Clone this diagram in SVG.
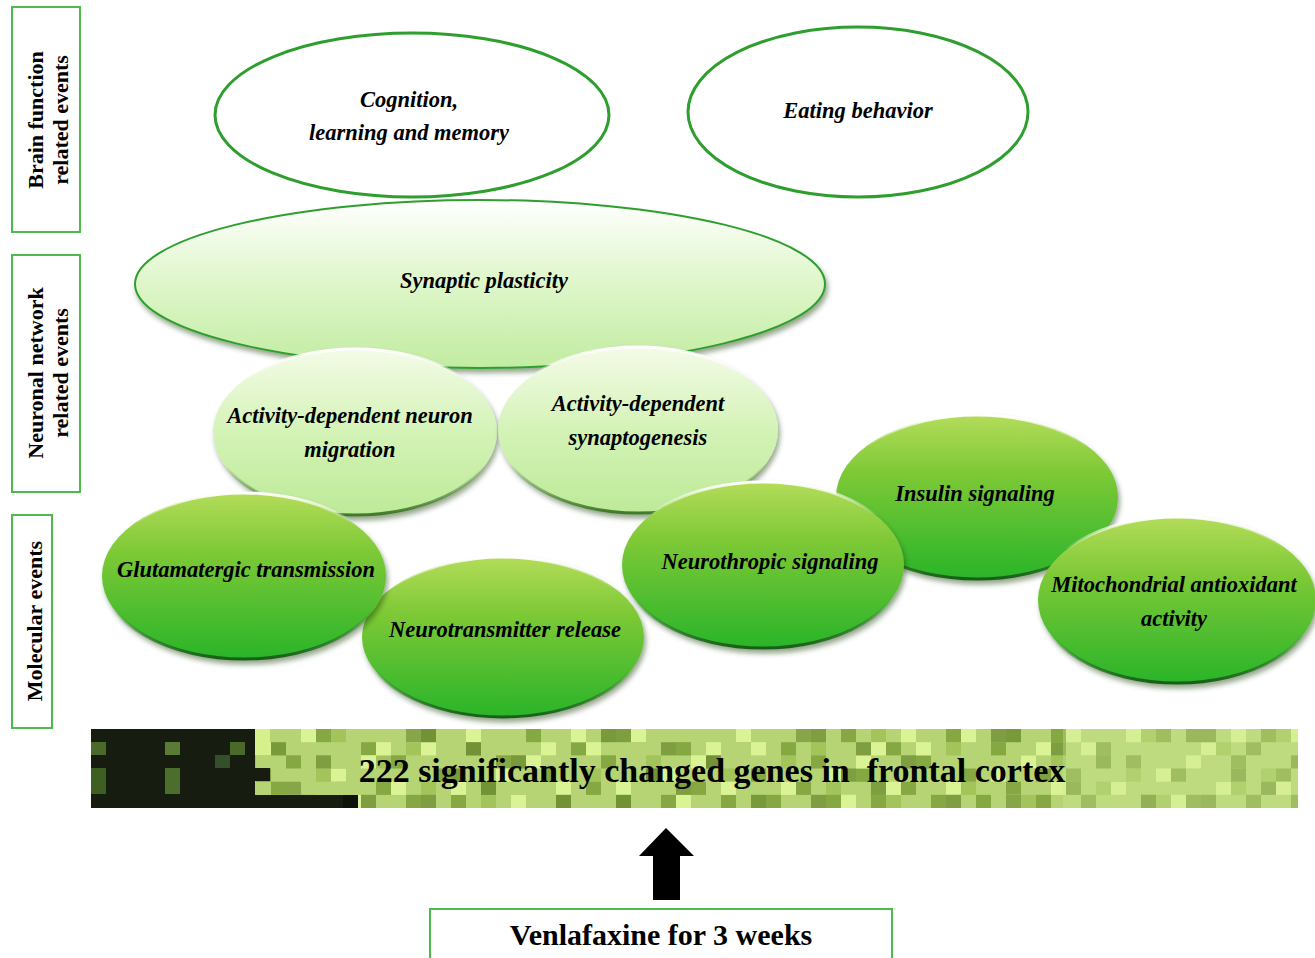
<svg xmlns="http://www.w3.org/2000/svg" width="1315" height="958" viewBox="0 0 1315 958">
<style>
.lbl{font-family:"Liberation Serif","Times New Roman",serif;font-weight:bold;font-size:22px;fill:#000}
.it{font-family:"Liberation Serif","Times New Roman",serif;font-weight:bold;font-style:italic;font-size:22.5px;fill:#000;text-anchor:middle}
.box{fill:#fff;stroke:#4cbb4c;stroke-width:2}
.top{fill:#fff;stroke:#2e9e2e;stroke-width:3}
.dk{fill:url(#gDark);stroke:url(#rimDark);stroke-width:3;filter:url(#sh)}
.lt{fill:url(#gLight);stroke:url(#rimLight);stroke-width:3;filter:url(#sh)}
</style>
<defs>
<linearGradient id="gDark" x1="0" y1="0" x2="0" y2="1">
<stop offset="0" stop-color="#b4dc5a"/><stop offset="0.35" stop-color="#7ec936"/><stop offset="1" stop-color="#2ab42a"/>
</linearGradient>
<linearGradient id="rimDark" x1="0" y1="0" x2="0" y2="1">
<stop offset="0" stop-color="#ffffff"/><stop offset="0.2" stop-color="#ffffff" stop-opacity="0"/><stop offset="0.7" stop-color="#1f7a1f" stop-opacity="0"/><stop offset="1" stop-color="#175f17"/>
</linearGradient>
<linearGradient id="gLight" x1="0" y1="0" x2="0" y2="1">
<stop offset="0" stop-color="#f4fbe8"/><stop offset="0.5" stop-color="#d4f3b7"/><stop offset="1" stop-color="#bdea98"/>
</linearGradient>
<linearGradient id="rimLight" x1="0" y1="0" x2="0" y2="1">
<stop offset="0" stop-color="#ffffff"/><stop offset="0.2" stop-color="#ffffff" stop-opacity="0"/><stop offset="0.7" stop-color="#4f8a35" stop-opacity="0"/><stop offset="1" stop-color="#3f7a2a"/>
</linearGradient>
<linearGradient id="gSyn" x1="0" y1="0" x2="0" y2="1">
<stop offset="0" stop-color="#ffffff"/><stop offset="0.5" stop-color="#def6c9"/><stop offset="1" stop-color="#c2eca2"/>
</linearGradient>
<filter id="sh" x="-10%" y="-10%" width="125%" height="130%">
<feDropShadow dx="2" dy="4" stdDeviation="2.5" flood-color="#1a3a10" flood-opacity="0.45"/>
</filter>
<pattern id="p1" patternUnits="userSpaceOnUse" x="91" y="729" width="105" height="79">
<g fill="#86a843">
<rect x="15" y="0" width="15" height="13.2"/><rect x="60" y="13.2" width="15" height="13.2"/><rect x="30" y="39.5" width="15" height="13.2"/><rect x="90" y="26.3" width="15" height="13.2"/><rect x="0" y="65.8" width="15" height="13.2"/><rect x="75" y="52.7" width="15" height="13.2"/><rect x="45" y="65.8" width="15" height="13.2"/>
</g>
</pattern>
<pattern id="p2" patternUnits="userSpaceOnUse" x="91" y="729" width="165" height="79">
<g fill="#daf395">
<rect x="0" y="13.2" width="15" height="13.2"/><rect x="45" y="0" width="15" height="13.2"/><rect x="105" y="26.3" width="15" height="13.2"/><rect x="135" y="52.7" width="15" height="13.2"/><rect x="30" y="52.7" width="15" height="13.2"/><rect x="75" y="39.5" width="15" height="13.2"/><rect x="150" y="0" width="15" height="13.2"/><rect x="90" y="65.8" width="15" height="13.2"/><rect x="120" y="13.2" width="15" height="13.2"/>
</g>
</pattern>
<pattern id="p3" patternUnits="userSpaceOnUse" x="91" y="729" width="195" height="79">
<g fill="#6a8c30" fill-opacity="0.75">
<rect x="30" y="26.3" width="15" height="13.2"/><rect x="120" y="0" width="30" height="13.2"/><rect x="165" y="39.5" width="15" height="13.2"/><rect x="75" y="65.8" width="15" height="13.2"/><rect x="0" y="52.7" width="15" height="13.2"/><rect x="135" y="65.8" width="15" height="13.2"/><rect x="180" y="13.2" width="15" height="13.2"/>
</g>
</pattern>
<pattern id="p4" patternUnits="userSpaceOnUse" x="91" y="729" width="135" height="79">
<g fill="#a2c45a">
<rect x="15" y="26.3" width="15" height="13.2"/><rect x="60" y="52.7" width="15" height="13.2"/><rect x="105" y="0" width="15" height="13.2"/><rect x="45" y="13.2" width="15" height="13.2"/><rect x="120" y="65.8" width="15" height="13.2"/><rect x="90" y="39.5" width="15" height="13.2"/>
</g>
</pattern>
</defs>
<rect width="1315" height="958" fill="#fff"/>

<g id="label-brain">
<rect class="box" x="12" y="7" width="68" height="225"/>
<text class="lbl" text-anchor="middle" transform="translate(43,120) rotate(-90)">Brain function</text>
<text class="lbl" text-anchor="middle" transform="translate(68,120) rotate(-90)">related events</text>
</g>
<g id="label-neuronal">
<rect class="box" x="12" y="255" width="68" height="237"/>
<text class="lbl" text-anchor="middle" transform="translate(43,373) rotate(-90)">Neuronal network</text>
<text class="lbl" text-anchor="middle" transform="translate(68,373) rotate(-90)">related events</text>
</g>
<g id="label-molecular">
<rect class="box" x="12" y="515" width="40" height="213"/>
<text class="lbl" text-anchor="middle" transform="translate(42,621) rotate(-90)">Molecular events</text>
</g>

<g id="node-cognition">
<ellipse class="top" cx="412" cy="115" rx="197" ry="82"/>
<text class="it" x="409" y="107">Cognition,</text>
<text class="it" x="409" y="140">learning and memory</text>
</g>
<g id="node-eating">
<ellipse class="top" cx="858" cy="112" rx="170" ry="85"/>
<text class="it" x="858" y="118">Eating behavior</text>
</g>

<g id="node-synaptic">
<ellipse cx="480" cy="284" rx="345" ry="84" fill="url(#gSyn)" stroke="#2f9f2f" stroke-width="2" filter="url(#sh)"/>
<text class="it" x="484" y="288">Synaptic plasticity</text>
</g>

<g id="node-migration">
<ellipse class="lt" cx="355" cy="432" rx="142" ry="83"/>
<text class="it" x="350" y="423">Activity-dependent neuron</text>
<text class="it" x="350" y="457">migration</text>
</g>
<g id="node-synaptogenesis">
<ellipse class="lt" cx="638" cy="430" rx="140" ry="83"/>
<text class="it" x="638" y="411">Activity-dependent</text>
<text class="it" x="638" y="445">synaptogenesis</text>
</g>

<g id="node-insulin">
<ellipse class="dk" cx="977" cy="497" rx="141" ry="82"/>
<text class="it" x="975" y="501">Insulin signaling</text>
</g>
<g id="node-neurotransmitter">
<ellipse class="dk" cx="503" cy="637" rx="141" ry="80"/>
<text class="it" x="505" y="637">Neurotransmitter release</text>
</g>
<g id="node-glutamatergic">
<ellipse class="dk" cx="244" cy="576" rx="142" ry="83"/>
<text class="it" x="246" y="577">Glutamatergic transmission</text>
</g>
<g id="node-neurothropic">
<ellipse class="dk" cx="763" cy="565" rx="141" ry="83"/>
<text class="it" x="770" y="569">Neurothropic signaling</text>
</g>
<g id="node-mitochondrial">
<ellipse class="dk" cx="1177" cy="600" rx="139" ry="83"/>
<text class="it" x="1174" y="592">Mitochondrial antioxidant</text>
<text class="it" x="1174" y="626">activity</text>
</g>

<g id="node-genes">
<rect x="91" y="729" width="1207" height="79" fill="#b6d473"/>
<rect x="91" y="729" width="1207" height="79" fill="url(#p4)"/>
<rect x="91" y="729" width="1207" height="79" fill="url(#p1)"/>
<rect x="91" y="729" width="1207" height="79" fill="url(#p2)"/>
<rect x="91" y="729" width="1207" height="79" fill="url(#p3)"/>
<rect x="1063" y="729" width="235" height="79" fill="#cfe994" fill-opacity="0.35"/>
<rect x="91" y="729" width="164" height="79" fill="#161c10"/>
<rect x="91" y="742" width="15" height="13" fill="#4a6a2a"/>
<rect x="91" y="768" width="15" height="26" fill="#3e5e22"/>
<rect x="165" y="742" width="15" height="13" fill="#5a7a35"/>
<rect x="165" y="768" width="15" height="26" fill="#4d6d2c"/>
<rect x="215" y="755" width="15" height="13" fill="#33502a"/>
<rect x="230" y="742" width="15" height="13" fill="#4a6a2a"/>
<rect x="255" y="729" width="15" height="26" fill="#d6f08c"/>
<rect x="255" y="768" width="15" height="13" fill="#161c10"/>
<rect x="255" y="795" width="90" height="13" fill="#161c10"/>
<rect x="343" y="795" width="15" height="13" fill="#0e120a"/>
<text x="712" y="782" xml:space="preserve" font-family="'Liberation Serif','Times New Roman',serif" font-weight="bold" font-size="34" text-anchor="middle" fill="#000">222 significantly changed genes in  frontal cortex</text>
</g>

<g id="connectors">
<polygon points="666,828 694,856 680,856 680,900 653,900 653,856 639,856" fill="#000"/>
</g>

<g id="node-venlafaxine">
<rect class="box" x="430" y="909" width="462" height="60"/>
<text x="661" y="945" font-family="'Liberation Serif','Times New Roman',serif" font-weight="bold" font-size="30" text-anchor="middle" fill="#000">Venlafaxine for 3 weeks</text>
</g>
</svg>
